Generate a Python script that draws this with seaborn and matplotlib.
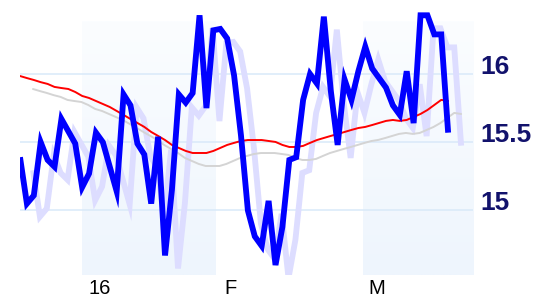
import numpy as np
import matplotlib
matplotlib.use("Agg")
import matplotlib.pyplot as plt
from matplotlib.transforms import offset_copy
import seaborn as sns

# daily closes (trading day index)
price = [15.39, 15.05, 15.11, 15.50, 15.37, 15.32, 15.67, 15.58, 15.49, 15.17,
         15.27, 15.57, 15.50, 15.32, 15.14, 15.85, 15.77, 15.49, 15.41, 15.05,
         15.54, 14.67, 15.15, 15.85, 15.79, 15.86, 16.43, 15.75, 16.32, 16.33,
         16.26, 15.99, 15.55, 15.00, 14.81, 14.74, 15.07, 14.60, 14.88, 15.37,
         15.39, 15.81, 16.00, 15.93, 16.42, 15.88, 15.48, 15.96, 15.81, 16.02,
         16.20, 16.04, 15.97, 15.90, 15.77, 15.70, 16.02, 15.64, 16.43, 16.43,
         16.29, 16.29, 15.57]

# moving average
avg = [15.985, 15.97, 15.956, 15.94, 15.927, 15.905, 15.897, 15.89, 15.868, 15.839,
       15.824, 15.802, 15.78, 15.758, 15.729, 15.70, 15.67, 15.641, 15.612, 15.575,
       15.546, 15.516, 15.48, 15.458, 15.436, 15.421, 15.421, 15.421, 15.436, 15.458,
       15.48, 15.495, 15.509, 15.516, 15.516, 15.516, 15.509, 15.502, 15.48, 15.465,
       15.465, 15.473, 15.495, 15.516, 15.531, 15.546, 15.56, 15.575, 15.59, 15.604,
       15.612, 15.626, 15.641, 15.656, 15.663, 15.656, 15.663, 15.685, 15.707, 15.736,
       15.773, 15.81, 15.802]

tick_pos = [11.5, 30.5, 51.6]
tick_labels = ["16", "F", "M"]
bands = [(9.0, 28.4), (49.6, 65.6)]
yticks = [15, 15.5, 16]
ytick_labels = ["15", "15.5", "16"]

idx = np.arange(len(price))

sns.set_style("white")
plt.rcParams['font.family'] = ['Liberation Sans', 'DejaVu Sans']

fig = plt.figure(figsize=(5.46, 3.04), dpi=100)
ax = fig.add_axes([20/546, 29/304, 453/546, 275/304])

# shaded bands with a soft vertical gradient
grad = np.linspace(0, 1, 100).reshape(-1, 1)
cmap = matplotlib.colors.LinearSegmentedColormap.from_list("b", ["#eef5fd", "#fbfdff"])
for x0, x1 in bands:
    ax.imshow(grad, extent=[x0, x1, 14.527, 16.381], origin="lower", cmap=cmap,
              aspect="auto", zorder=0)

for y in yticks:
    ax.axhline(y, color="#d9e9f9", lw=1.1, zorder=0.5)

shadow = offset_copy(ax.transData, fig=fig, x=13, y=-13, units="dots")
sns.lineplot(x=idx, y=price, ax=ax, color="#ddddff", lw=4.2, transform=shadow,
             solid_joinstyle="miter", solid_capstyle="butt", zorder=1)
sns.lineplot(x=idx, y=avg, ax=ax, color="#d4d4d4", lw=1.4, transform=shadow, zorder=1.2)
sns.lineplot(x=idx, y=avg, ax=ax, color="#ff0000", lw=1.4, zorder=2)
sns.lineplot(x=idx, y=price, ax=ax, color="#0000ff", lw=4.2,
             solid_joinstyle="miter", solid_capstyle="butt", zorder=3)

ax.set_xlim(0, 65.6)
ax.set_ylim(14.527, 16.542)
ax.set_xticks(tick_pos)
ax.set_xticklabels(tick_labels, fontsize=14.5, color="black")
ax.yaxis.tick_right()
ax.set_yticks(yticks)
ax.set_yticklabels(ytick_labels, fontsize=19, fontweight="bold", color="#12126c")
for t in ax.get_yticklabels():
    t.set_va("baseline")
ax.tick_params(axis="x", length=0, pad=3)
ax.tick_params(axis="y", length=0, pad=5.2)
ax.set_xlabel("")
ax.set_ylabel("")
for s in ax.spines.values():
    s.set_visible(False)

fig.savefig("out.png", dpi=100)
